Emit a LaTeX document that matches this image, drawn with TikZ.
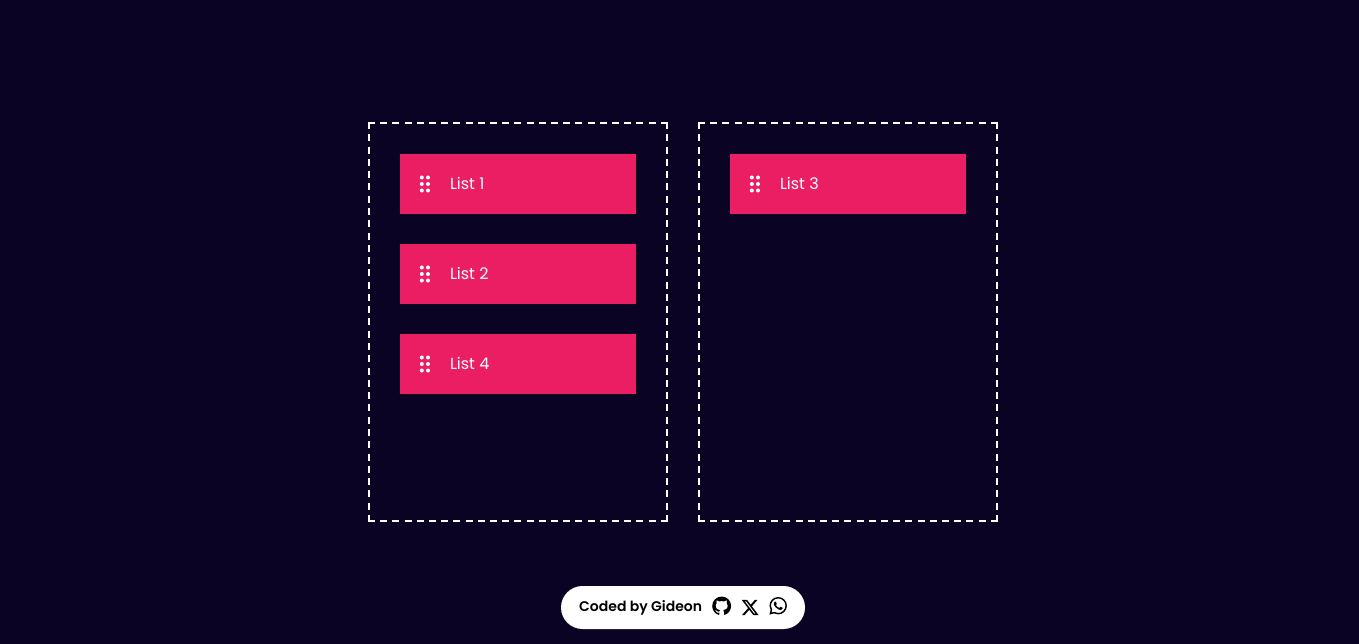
\documentclass[tikz,border=0pt]{standalone}
\usepackage{fontspec}
\setmainfont{Poppins}
\newfontfamily\boldfont{Poppins SemiBold}
\usetikzlibrary{svg.path}
\definecolor{pagebg}{HTML}{0A0324}
\definecolor{cardpink}{HTML}{EB1E63}
\tikzset{
    column/.style={outer sep=0pt, inner sep=0pt, minimum width=298pt, minimum height=398pt},
    hside/.style={draw=white, line width=2pt, dash pattern=on 7pt off 5.2pt, shorten <=-1pt, shorten >=-1pt},
    vside/.style={draw=white, line width=2pt, dash pattern=on 7pt off 5.28pt, shorten <=-1pt, shorten >=-1pt},
    card/.style={fill=cardpink, minimum width=236pt, minimum height=60pt},
    cardtext/.style={text=white, font=\fontsize{16}{16}\selectfont, anchor=west, inner sep=0pt},
    griptip/.style={fill=white}
}
\begin{document}
\begin{tikzpicture}[x=1pt, y=-1pt]
    \fill[pagebg] (0,0) rectangle (1359,644);
    \useasboundingbox (0,0) rectangle (1359,644);
    \node[column] (left) at (518,322) {};
    \node[column] (right) at (848,322) {};
    \foreach \col in {left,right} {
        \draw[hside] (\col.north west) -- (\col.north east);
        \draw[hside] (\col.south west) -- (\col.south east);
        \draw[vside] (\col.north west) -- (\col.south west);
        \draw[vside] (\col.north east) -- (\col.south east);
    }
    \foreach \x/\y/\name in {518/184/1, 518/274/2, 518/364/4, 848/184/3} {
        \node[card] (card\name) at (\x,\y) {};
        \node[cardtext] (text\name) at ([xshift=50pt,yshift=1pt]card\name.west) {List \name};
        \foreach \dy in {-6.5,0,6.5} {
            \fill[griptip] ([xshift=22pt,yshift=\dy pt]card\name.west) circle (2pt);
            \fill[griptip] ([xshift=28.2pt,yshift=\dy pt]card\name.west) circle (2pt);
        }
    }
    % footer
    \node[fill=white, rounded corners=21.5pt, minimum width=244pt, minimum height=43pt] (pill) at (683,607.5) {};
    \node[anchor=west, inner sep=0pt, font=\boldfont\fontsize{14}{14}\selectfont] (credit) at (579,608) {Coded by Gideon};
    \begin{scope}[shift={(712.2,615.4)}, scale=1.18, y=1pt]
        \fill[black] svg {M8 16C3.58 16 0 12.42 0 8c0 -3.54 2.29 -6.53 5.47 -7.59 0.4 -0.07 0.55 0.17 0.55 0.38 0 0.19 -0.01 0.82 -0.01 1.49 -2.01 -0.37 -2.53 0.49 -2.69 0.94 -0.09 0.23 -0.48 0.94 -0.82 1.13 -0.28 0.15 -0.68 0.52 -0.01 0.53 0.63 0.01 1.08 -0.58 1.23 -0.82 0.72 -1.21 1.87 -0.87 2.33 -0.66 0.07 0.52 0.28 0.87 0.51 1.07 -1.78 0.2 -3.64 0.89 -3.64 3.95 0 0.87 0.31 1.59 0.82 2.15 -0.08 0.2 -0.36 1.02 0.08 2.12 0 0 0.67 0.21 2.2 -0.82 0.64 0.18 1.32 0.27 2 0.27 0.68 0 1.36 -0.09 2 -0.27 1.53 1.04 2.2 0.82 2.2 0.82 0.44 -1.1 0.16 -1.92 0.08 -2.12 0.51 -0.56 0.82 -1.27 0.82 -2.15 0 -3.07 -1.87 -3.75 -3.65 -3.95 0.29 -0.25 0.54 -0.73 0.54 -1.48 0 -1.07 -0.01 -1.93 -0.01 -2.2 0 -0.21 0.15 -0.46 0.55 -0.38 3.18 1.06 5.47 4.05 5.47 7.59 0 4.42 -3.58 8 -8 8z};
    \end{scope}
    \begin{scope}[shift={(740.7,616.8)}, scale=0.78, y=1pt]
        \fill[black, even odd rule] svg {M18.244 21.75h3.308l-7.227 -8.26 8.502 -11.24H16.17l-5.214 6.817L4.99 2.25H1.68l7.73 8.835L1.254 21.75H8.08l4.713 -6.231zM17.083 4.23h1.833L7.084 19.874H5.117z};
    \end{scope}
    \begin{scope}[shift={(769.4,614.6)}, scale=1.1, y=1pt]
        \fill[black, even odd rule] svg {M13.6 13.67C12.1 15.17 10.1 16 7.99 16C3.63 16 0.07 12.44 0.06 8.07C0.06 6.68 0.43 5.32 1.12 4.11L0 0L4.2 1.1C5.37 0.47 6.67 0.14 7.99 0.14C12.36 0.14 15.93 3.7 15.92 8.07C15.92 10.17 15.1 12.18 13.6 13.67zM7.99 1.48C6.81 1.48 5.65 1.8 4.64 2.4L4.4 2.54L1.9 1.89L2.57 4.32L2.41 4.57C1.75 5.62 1.4 6.84 1.4 8.08C1.4 11.7 4.36 14.66 7.99 14.66C9.74 14.66 11.41 13.97 12.65 12.73C13.89 11.49 14.58 9.81 14.58 8.07C14.57 4.43 11.62 1.48 7.99 1.48z};
        \fill[black] svg {M11.61 6.41C11.41 6.51 10.44 6.99 10.26 7.06C10.08 7.12 9.94 7.16 9.81 6.96C9.68 6.76 9.3 6.31 9.19 6.19C9.07 6.05 8.96 6.04 8.76 6.14C8.56 6.24 7.92 6.45 7.17 7.12C6.58 7.65 6.18 8.3 6.07 8.49C5.95 8.69 6.06 8.8 6.16 8.9C6.24 8.99 6.35 9.13 6.45 9.24C6.55 9.36 6.59 9.44 6.65 9.57C6.72 9.71 6.68 9.82 6.64 9.92C6.59 10.02 6.19 10.99 6.03 11.39C5.87 11.78 5.7 11.72 5.58 11.73C5.47 11.74 5.33 11.74 5.2 11.74C5.06 11.74 4.85 11.69 4.67 11.49C4.49 11.29 3.98 10.81 3.98 9.84C3.98 8.86 4.69 7.92 4.79 7.79C4.89 7.66 6.18 5.66 8.17 4.8C8.64 4.59 9.01 4.47 9.3 4.38C9.78 4.23 10.21 4.25 10.55 4.3C10.93 4.36 11.72 4.78 11.89 5.24C12.05 5.71 12.05 6.1 12 6.19C11.95 6.27 11.81 6.32 11.61 6.41z};
    \end{scope}
\end{tikzpicture}
\end{document}
